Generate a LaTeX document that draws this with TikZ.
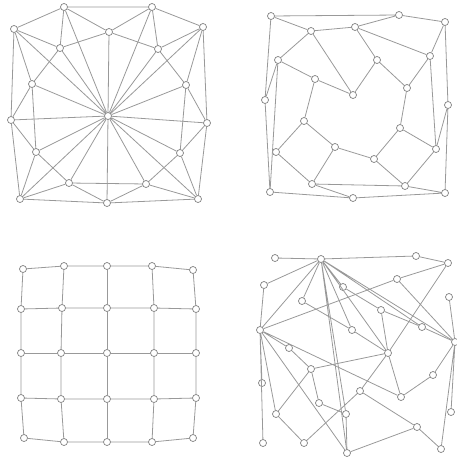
\documentclass[tikz,border=0pt]{standalone}
\usepackage{tikz}

\begin{document}
\begin{tikzpicture}[x=1pt,y=-1pt,
  vtx/.style={circle, draw=black!50, fill=white, line width=0.7pt, inner sep=0pt, minimum size=7pt},
  edge/.style={black!40, line width=0.8pt}]
\useasboundingbox (0,0) rectangle (457,460);
% wheel, top left
\node[vtx] (w0) at (108,116) {};
\node[vtx] (wa) at (14,29) {};
\node[vtx] (wb) at (64,7) {};
\node[vtx] (wc) at (152,7) {};
\node[vtx] (wd) at (203,27) {};
\node[vtx] (we) at (109,32) {};
\node[vtx] (wf) at (60,48) {};
\node[vtx] (wg) at (158,49) {};
\node[vtx] (wh) at (32,84) {};
\node[vtx] (wi) at (186,85) {};
\node[vtx] (wj) at (11,120) {};
\node[vtx] (wk) at (207,123) {};
\node[vtx] (wl) at (36,152) {};
\node[vtx] (wm) at (180,153) {};
\node[vtx] (wn) at (69,183) {};
\node[vtx] (wo) at (146,184) {};
\node[vtx] (wp) at (20,199) {};
\node[vtx] (wq) at (107,203) {};
\node[vtx] (wr) at (198,199) {};
\draw[edge] (wa) -- (wb) -- (wc) -- (wd);
\draw[edge] (wb) -- (we) -- (wc);
\draw[edge] (wb) -- (wf) (wc) -- (wg) (wa) -- (wf) (wd) -- (wg);
\draw[edge] (wf) -- (we) -- (wg);
\draw[edge] (wf) -- (wh) (wg) -- (wi) (wa) -- (wh) (wd) -- (wi);
\draw[edge] (wa) -- (wj) (wd) -- (wk) (wh) -- (wj) (wi) -- (wk);
\draw[edge] (wh) -- (wl) (wi) -- (wm) (wj) -- (wl) (wk) -- (wm);
\draw[edge] (wj) -- (wp) (wk) -- (wr) (wl) -- (wn) (wm) -- (wo);
\draw[edge] (wl) -- (wp) (wm) -- (wr) (wp) -- (wn) (wr) -- (wo);
\draw[edge] (wn) -- (wo) (wn) -- (wq) (wo) -- (wq) (wp) -- (wq) -- (wr);
\draw[edge] (w0) -- (wa) (w0) -- (wb) (w0) -- (wc) (w0) -- (wd) (w0) -- (we) (w0) -- (wf);
\draw[edge] (w0) -- (wg) (w0) -- (wh) (w0) -- (wi) (w0) -- (wj) (w0) -- (wk) (w0) -- (wl);
\draw[edge] (w0) -- (wm) (w0) -- (wn) (w0) -- (wo) (w0) -- (wp) (w0) -- (wq) (w0) -- (wr);

% ring, top right
\node[vtx] (ra) at (271,16) {};
\node[vtx] (rb) at (399,15) {};
\node[vtx] (rc) at (445,22) {};
\node[vtx] (rd) at (311,31) {};
\node[vtx] (re) at (355,27) {};
\node[vtx] (rf) at (278,60) {};
\node[vtx] (rg) at (377,60) {};
\node[vtx] (rh) at (430,56) {};
\node[vtx] (ri) at (315,79) {};
\node[vtx] (rj) at (353,95) {};
\node[vtx] (rk) at (407,88) {};
\node[vtx] (rl) at (265,100) {};
\node[vtx] (rm) at (448,105) {};
\node[vtx] (rn) at (304,121) {};
\node[vtx] (ro) at (400,128) {};
\node[vtx] (rp) at (335,147) {};
\node[vtx] (rq) at (276,152) {};
\node[vtx] (rr) at (436,149) {};
\node[vtx] (rs) at (374,159) {};
\node[vtx] (rt) at (312,184) {};
\node[vtx] (ru) at (405,186) {};
\node[vtx] (rv) at (270,192) {};
\node[vtx] (rw) at (353,198) {};
\node[vtx] (rx) at (445,193) {};
\draw[edge] (ra) -- (rb) -- (rc) (ra) -- (rd) -- (re) -- (rb);
\draw[edge] (ra) -- (rl) -- (rv) (rf) -- (rl) (rf) -- (rv) (rd) -- (rf) (rd) -- (rj);
\draw[edge] (rf) -- (ri) -- (rj) (ri) -- (rn) -- (rq) -- (rt) (rn) -- (rp) -- (rt) (rp) -- (rs);
\draw[edge] (re) -- (rg) (re) -- (rh) (rg) -- (rj) (rg) -- (rk) (rh) -- (rk) (rc) -- (rh);
\draw[edge] (rc) -- (rm) -- (rx) (rm) -- (rr) (rh) -- (rr);
\draw[edge] (rk) -- (ro) -- (rs) (ro) -- (rr) (rs) -- (ru) (rr) -- (ru);
\draw[edge] (rt) -- (ru) (rt) -- (rw) (rv) -- (rw) -- (rx) (ru) -- (rx);

% grid, bottom left
\node[vtx] (g11) at (23,269) {};
\node[vtx] (g12) at (64,266) {};
\node[vtx] (g13) at (107,266) {};
\node[vtx] (g14) at (152,266) {};
\node[vtx] (g15) at (193,270) {};
\node[vtx] (g21) at (21,309) {};
\node[vtx] (g22) at (62,308) {};
\node[vtx] (g23) at (107,308) {};
\node[vtx] (g24) at (154,308) {};
\node[vtx] (g25) at (196,309) {};
\node[vtx] (g31) at (21,353) {};
\node[vtx] (g32) at (61,353) {};
\node[vtx] (g33) at (107,353) {};
\node[vtx] (g34) at (154,353) {};
\node[vtx] (g35) at (196,353) {};
\node[vtx] (g41) at (21,398) {};
\node[vtx] (g42) at (61,399) {};
\node[vtx] (g43) at (107,399) {};
\node[vtx] (g44) at (154,399) {};
\node[vtx] (g45) at (196,398) {};
\node[vtx] (g51) at (24,438) {};
\node[vtx] (g52) at (64,442) {};
\node[vtx] (g53) at (107,442) {};
\node[vtx] (g54) at (152,442) {};
\node[vtx] (g55) at (193,438) {};
\draw[edge] (g11) -- (g12) -- (g13) -- (g14) -- (g15);
\draw[edge] (g21) -- (g22) -- (g23) -- (g24) -- (g25);
\draw[edge] (g31) -- (g32) -- (g33) -- (g34) -- (g35);
\draw[edge] (g41) -- (g42) -- (g43) -- (g44) -- (g45);
\draw[edge] (g51) -- (g52) -- (g53) -- (g54) -- (g55);
\draw[edge] (g11) -- (g21) -- (g31) -- (g41) -- (g51);
\draw[edge] (g12) -- (g22) -- (g32) -- (g42) -- (g52);
\draw[edge] (g13) -- (g23) -- (g33) -- (g43) -- (g53);
\draw[edge] (g14) -- (g24) -- (g34) -- (g44) -- (g54);
\draw[edge] (g15) -- (g25) -- (g35) -- (g45) -- (g55);

% tangle, bottom right
\node[vtx] (h1) at (275,258) {};
\node[vtx] (h2) at (321,259) {};
\node[vtx] (h3) at (416,256) {};
\node[vtx] (h4) at (448,263) {};
\node[vtx] (h5) at (264,285) {};
\node[vtx] (h6) at (343,287) {};
\node[vtx] (h7) at (397,279) {};
\node[vtx] (h8) at (449,297) {};
\node[vtx] (h9) at (302,301) {};
\node[vtx] (h10) at (381,310) {};
\node[vtx] (h11) at (260,330) {};
\node[vtx] (h12) at (352,330) {};
\node[vtx] (h13) at (422,327) {};
\node[vtx] (h14) at (455,342) {};
\node[vtx] (h15) at (289,348) {};
\node[vtx] (h16) at (388,353) {};
\node[vtx] (h17) at (311,369) {};
\node[vtx] (h18) at (433,375) {};
\node[vtx] (h19) at (262,383) {};
\node[vtx] (h20) at (360,391) {};
\node[vtx] (h21) at (401,397) {};
\node[vtx] (h22) at (319,403) {};
\node[vtx] (h23) at (276,414) {};
\node[vtx] (h24) at (346,414) {};
\node[vtx] (h25) at (451,412) {};
\node[vtx] (h26) at (417,427) {};
\node[vtx] (h27) at (263,443) {};
\node[vtx] (h28) at (304,443) {};
\node[vtx] (h29) at (347,453) {};
\node[vtx] (h30) at (441,449) {};
\draw[edge] (h1) -- (h2) -- (h3) -- (h4) (h2) -- (h5) -- (h11);
\draw[edge] (h2) -- (h11) (h2) -- (h9) (h2) -- (h6) (h2) -- (h12) (h2) -- (h16);
\draw[edge] (h2) -- (h13) (h2) -- (h14) (h2) -- (h24) (h2) -- (h29);
\draw[edge] (h4) -- (h7) -- (h11) (h4) -- (h16) -- (h20) (h7) -- (h14) (h8) -- (h14);
\draw[edge] (h9) -- (h12) -- (h16) (h6) -- (h10) -- (h13) -- (h14) (h10) -- (h16);
\draw[edge] (h11) -- (h15) -- (h17) -- (h16) (h11) -- (h21) (h11) -- (h29);
\draw[edge] (h11) -- (h19) (h11) -- (h27) (h11) -- (h23);
\draw[edge] (h17) -- (h23) -- (h28) -- (h20) (h17) -- (h22) -- (h24) -- (h29);
\draw[edge] (h16) -- (h21) (h20) -- (h26) (h26) -- (h29) (h26) -- (h30);
\draw[edge] (h14) -- (h30) (h14) -- (h25) (h14) -- (h18) -- (h21);
\end{tikzpicture}
\end{document}
